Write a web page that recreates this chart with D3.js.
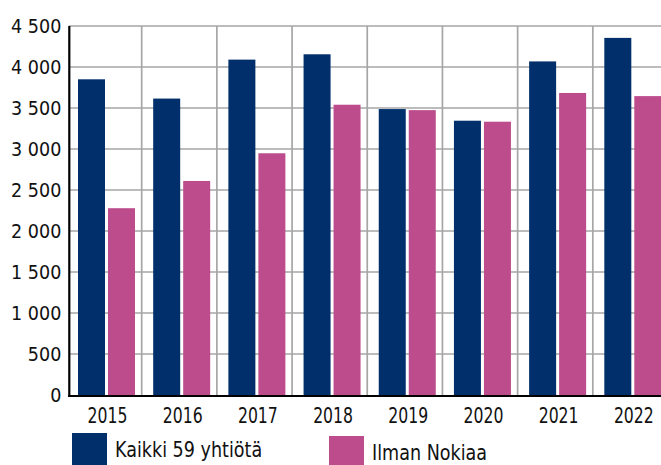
<!DOCTYPE html>
<html lang="fi">
<head>
<meta charset="UTF-8">
<title>Kaikki 59 yhtiötä / Ilman Nokiaa</title>
<style>
    body{ margin:0; background:white; }
    svg text{ font-family:"DejaVu Sans Condensed","DejaVu Sans",sans-serif; fill:#111; }
</style>
</head>
<body>
<script src="https://d3js.org/d3.v7.min.js"></script>
<script>

var years = ["2015","2016","2017","2018","2019","2020","2021","2022"];
var seriesNames = ["Kaikki 59 yhtiötä","Ilman Nokiaa"];
var kaikki = [3850, 3615, 4090, 4155, 3487, 3345, 4068, 4355];
var ilmanNokiaa = [2278, 2610, 2948, 3540, 3474, 3333, 3683, 3645];
var yTicks = [0,500,1000,1500,2000,2500,3000,3500,4000,4500];

var colors = ["#002f6c","#bc4c8b"];

var width = 661, height = 465;

var svg = d3.select("body").append("svg")
        .attr("width", width)
        .attr("height", height);

var x0 = d3.scaleBand()
        .domain(years)
        .range([66.5, 668])
        .padding(0);

var x1 = d3.scaleBand()
        .domain(seriesNames)
        .range([11.5, 68.5])
        .paddingInner(0.1);

var y = d3.scaleLinear()
        .domain([0, 4500])
        .range([395, 26]);

// grid
svg.append("g").selectAll("line.h")
        .data(yTicks.slice(1)).enter()
        .append("line")
        .attr("x1", 69).attr("x2", width)
        .attr("y1", function(d){return y(d)})
        .attr("y2", function(d){return y(d)})
        .style("stroke","#a6a6a6")
        .style("stroke-width",1.7);

svg.append("g").selectAll("line.v")
        .data(years.slice(1)).enter()
        .append("line")
        .attr("x1", function(d){return x0(d)})
        .attr("x2", function(d){return x0(d)})
        .attr("y1", y(4500)).attr("y2", y(0))
        .style("stroke","#a6a6a6")
        .style("stroke-width",1.7);

var rows = years.map(function(yr,i){
    return {year:yr, vals:[kaikki[i], ilmanNokiaa[i]]};
});

var grp = svg.append("g").selectAll("g")
        .data(rows).enter()
        .append("g")
        .attr("transform", function(d){return "translate(" + x0(d.year) + ",0)"});

grp.selectAll("rect")
        .data(function(d){return d.vals.map(function(v,i){return {name:seriesNames[i], v:v, i:i}})})
        .enter().append("rect")
        .attr("x", function(d){return x1(d.name)})
        .attr("width", x1.bandwidth())
        .attr("y", function(d){return y(d.v)})
        .attr("height", function(d){return y(0) - y(d.v)})
        .style("fill", function(d){return colors[d.i]});

// y axis
var yAxis = svg.append("g")
        .attr("transform","translate(69.3,0)")
        .call(d3.axisLeft(y).tickValues(yTicks).tickSize(0).tickPadding(8)
            .tickFormat(function(d){return d3.format(",")(d).replace(",", " ")}));
yAxis.select(".domain").remove();
yAxis.selectAll("text")
        .style("font-size","19.5px")
        .attr("y",-1)
        .attr("dy","0.36em");

svg.append("line")
        .attr("x1",69.3).attr("x2",69.3)
        .attr("y1",y(4500)).attr("y2",y(0)+2)
        .style("stroke","#000").style("stroke-width",2.2);

svg.append("line")
        .attr("x1",68.2).attr("x2",width)
        .attr("y1",y(0)+1).attr("y2",y(0)+1)
        .style("stroke","#000").style("stroke-width",2);

// x labels, narrowed a bit to look like the condensed face of the original
var pairMid = (x1.range()[0] + x1.range()[1]) / 2;
svg.append("g").selectAll("text")
        .data(years).enter()
        .append("text")
        .attr("transform", function(d){return "translate(" + (x0(d) + pairMid + 1) + ",423) scale(0.85,1)"})
        .attr("text-anchor","middle")
        .style("font-size","20.5px")
        .text(function(d){return d});

// legend
var legX = [72, 329];
var legY = [433, 436];
var leg = svg.append("g").selectAll("g")
        .data(seriesNames).enter()
        .append("g")
        .attr("transform", function(d,i){return "translate(" + legX[i] + "," + legY[i] + ")"});

leg.append("rect")
        .attr("width",35).attr("height",32)
        .style("fill", function(d,i){return colors[i]});

leg.append("text")
        .attr("transform","translate(43,23.5) scale(0.93,1)")
        .style("font-size","21px")
        .text(function(d){return d});

</script>
</body>
</html>
